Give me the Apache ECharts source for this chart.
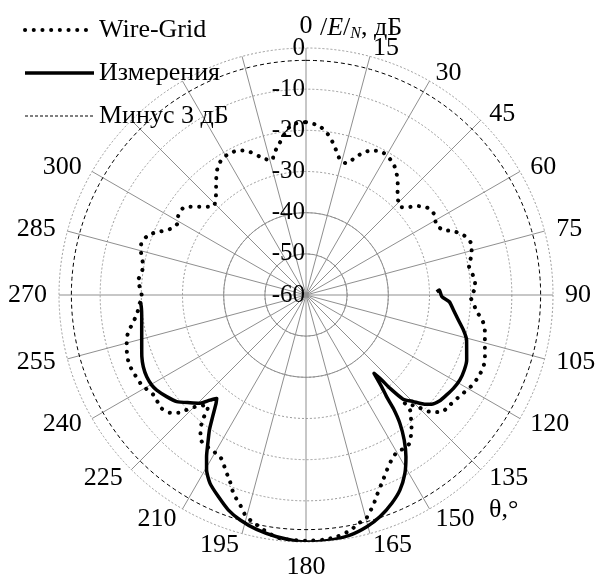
<!DOCTYPE html>
<html>
<head>
<meta charset="utf-8">
<script src="https://cdn.jsdelivr.net/npm/echarts@6/dist/echarts.min.js"></script>
<style>
  html, body { margin: 0; padding: 0; background: #fff; }
  #chart { width: 595px; height: 578px; }
</style>
</head>
<body>
<div id="chart"></div>
<script>
// Radiation pattern, normalised field |E|/N in dB versus azimuth θ (degrees, clockwise from top)

// Wire-Grid model (angle in degrees, level in dB)
const wireGridAngle = [
  0, 1.9, 4.5, 6.9, 9.0, 10.7, 12.5, 14.5, 17.2, 19.2, 21.2, 23.4, 26.1, 28.8, 31.8, 34.4,
  36.9, 39.0, 41.3, 43.7, 46.8, 49.2, 50.9, 53.2, 55.6, 58.7, 61.7, 64.7, 66.1, 67.8, 69.9,
  72.4, 75.0, 77.4, 79.9, 82.6, 85.5, 88.3, 90.8, 92.8, 95.6, 97.6, 99.9, 102.4, 105.1,
  107.6, 110.0, 113.0, 116.3, 119.1, 121.7, 124.3, 127.4, 130.6, 132.4, 133.9, 134.8,
  136.0, 137.6, 137.9, 139.6, 141.3, 143.1, 145.3, 147.6, 150.0, 152.6, 154.4, 156.3,
  158.0, 159.5, 160.9, 162.2, 163.8, 164.8, 166.7, 169.4, 172.8, 176.0, 180.0,
  184.0, 186.1, 187.7, 189.5, 191.2, 193.2, 195.1, 197.2, 199.0, 200.7, 202.1, 203.6,
  205.0, 207.5, 210.0, 212.7, 215.4, 217.2, 218.6, 219.8, 220.6, 221.8, 224.8, 226.2,
  227.3, 229.1, 231.9, 236.8, 241.3, 244.9, 248.4, 251.0, 253.4, 255.9, 258.3, 260.7,
  263.0, 266.3, 269.7, 272.5, 275.1, 277.7, 280.4, 283.1, 285.5, 288.0, 290.4, 292.5,
  294.2, 296.4, 299.2, 301.7, 305.1, 307.3, 309.2, 311.4, 314.0, 317.3, 319.6, 321.8,
  323.9, 326.0, 328.9, 331.6, 334.7, 337.4, 339.6, 341.6, 343.8, 346.1, 346.9, 349.5,
  351.6, 353.3, 355.8, 358.6, 360
];
const wireGridLevel = [
  -18.0, -18.3, -18.8, -20.0, -21.5, -23.1, -24.75, -26.4, -26.5, -25.0, -23.3, -21.9, -21.0, -20.7, -21.2, -22.0,
  -23.3, -24.6, -26.3, -27.7, -28.7, -27.4, -25.7, -24.2, -23.2, -23.3, -24.1, -23.1, -21.5, -20.0, -18.7,
  -18.0, -18.35, -19.0, -19.8, -19.3, -18.8, -19.1, -20.0, -19.3, -18.3, -17.0, -16.0, -15.5, -15.0,
  -14.4, -13.75, -13.5, -13.75, -14.2, -14.9, -15.5, -16.0, -16.4, -17.8, -19.3, -21.2,
  -22.8, -24.4, -22.3, -20.65, -19.0, -17.5, -16.0, -15.8, -15.9, -14.85, -13.75, -12.25,
  -10.8, -9.4, -8.0, -6.4, -4.9, -3.9, -3.2, -1.8, -0.8, -0.4, -0.3,
  -0.4, -0.55, -1.0, -1.7, -2.5, -3.4, -4.2, -6.35, -7.8, -9.35, -11.0, -12.3,
  -13.5, -15.3, -15.8, -16.0, -16.3, -17.6, -19.05, -21.0, -23.2, -24.2, -21.7, -19.6,
  -17.8, -16.3, -15.4, -15.7, -14.5, -14.15, -13.85, -14.1, -14.55, -15.1, -15.9, -17.35,
  -18.4, -19.5, -20.1, -19.6, -19.1, -19.7, -19.8, -19.0, -18.35, -18.05, -18.9, -20.3,
  -22.0, -23.6, -24.3, -23.5, -23.4, -24.6, -26.1, -27.6, -28.9, -27.7, -26.3, -24.7,
  -23.2, -21.9, -21.1, -20.9, -21.2, -22.0, -23.3, -24.6, -25.7, -26.2, -25.1, -23.0,
  -21.4, -19.65, -18.35, -18.1, -18.0
];

// Measured pattern (rear half-plane)
const measuredAngle = [
  88.6, 87.9, 90.7, 92.7, 95.8, 99.3, 102.5, 105.6, 108.9, 112.0, 115.35, 118.9, 122.35,
  125.4, 128.5, 131.1, 132.9, 134.8, 137.0, 138.0, 138.3, 139.0, 140.5, 141.6, 142.4,
  143.8, 145.9, 148.3, 151.0, 154.3, 157.6, 161.5, 165.3, 169.6, 175.2, 180.0,
  186.9, 191.9, 196.3, 199.9, 203.5, 207.0, 209.6, 211.6, 213.5, 215.6, 217.5, 219.7,
  220.8, 222.4, 224.4, 227.1, 230.5, 233.9, 237.5, 239.7, 242.8, 246.2, 249.4, 253.6,
  258.0, 262.5, 267.1, 267.7
];
const measuredLevel = [
  -28.25, -27.6, -27.0, -25.15, -24.0, -22.5, -20.85, -19.5, -18.75, -17.9, -17.45, -17.3, -17.6,
  -18.1, -18.6, -19.6, -21.1, -23.25, -25.4, -29.5, -32.35, -34.8, -31.1, -28.5, -25.2,
  -21.4, -17.45, -13.8, -10.45, -7.4, -5.3, -3.25, -1.8, -0.7, -0.1, 0.0,
  -0.85, -1.8, -3.05, -4.5, -6.6, -8.65, -11.1, -13.9, -16.8, -19.7, -22.75, -25.8,
  -26.8, -25.4, -23.2, -21.55, -19.3, -18.1, -17.0, -16.6, -16.5, -16.8, -17.4, -18.4,
  -19.2, -19.75, -19.8, -19.25
];

// Half-power reference level
const halfPowerLevel = -3;

// Axis ticks
const radiusMin = -60, radiusMax = 0, radiusStep = 10;
const angleStep = 15;
const angleTicks = [0, 15, 30, 45, 60, 75, 90, 105, 120, 135, 150, 165, 180, 195, 210, 225, 240, 255, 270, 285, 300];

const seriesNames = ['Wire-Grid', 'Измерения', 'Минус 3 дБ'];

const FONT = 'Liberation Serif';
const CENTER = [306, 295];
const RADIUS = 247;
const GRID_GREY = '#8f8f8f';
const TICK_FONT = 26;

const toPolar = (levels, angles) => levels.map((v, i) => [v, angles[i]]);
const halfPowerData = [];
for (let a = 0; a <= 360; a += 2) halfPowerData.push([halfPowerLevel, a]);

// Angle labels sit beside the rim: their inner edge is pushed out to LABEL_R,
// which ECharts' own align rules cannot do, so each label gets its own padding.
const LABEL_MARGIN = -34;
const LABEL_R = 259;
const LABEL_R_TOP = 256;
const LABEL_H = 26;
const measureCtx = document.createElement('canvas').getContext('2d');
measureCtx.font = TICK_FONT + 'px "' + FONT + '"';
const angleRich = {};
angleTicks.forEach(v => {
  const th = v * Math.PI / 180, s = Math.sin(th), c = Math.cos(th);
  const w = measureCtx.measureText(String(v)).width, h = LABEL_H;
  const rp = RADIUS + LABEL_MARGIN;
  const px = rp * s, py = -rp * c;
  const hAlign = Math.abs(px) / RADIUS < 0.3 ? 'center' : (px > 0 ? 'left' : 'right');
  const vAlign = Math.abs(py) / RADIUS < 0.3 ? 'middle' : (py > 0 ? 'top' : 'bottom');
  const rY = c > 0 ? LABEL_R_TOP : LABEL_R;
  let dx, dy;
  if (Math.abs(s) < 1e-6) { dx = 0; dy = -(rY + h / 2) * Math.sign(c); }
  else { dx = LABEL_R * s + Math.sign(s) * w / 2; dy = -rY * c; }
  const defX = hAlign === 'left' ? px + w / 2 : hAlign === 'right' ? px - w / 2 : px;
  const defY = vAlign === 'top' ? py + h / 2 : vAlign === 'bottom' ? py - h / 2 : py;
  const sx = dx - defX, sy = dy - defY;
  let pl = 0, pr = 0, pt = 0, pb = 0;
  if (hAlign === 'left') pl = Math.max(0, sx);
  else if (hAlign === 'right') pr = Math.max(0, -sx);
  else if (sx > 0) pl = 2 * sx; else pr = -2 * sx;
  if (vAlign === 'top') pt = Math.max(0, sy);
  else if (vAlign === 'bottom') pb = Math.max(0, -sy);
  else if (sy > 0) pt = 2 * sy; else pb = -2 * sy;
  angleRich['a' + v] = {
    fontFamily: FONT, fontSize: TICK_FONT, color: '#000',
    lineHeight: h + pt + pb,
    padding: [pt, pr, pb, pl]
  };
});

const chart = echarts.init(document.getElementById('chart'), null, { renderer: 'canvas' });

chart.setOption({
  animation: false,
  backgroundColor: '#fff',
  textStyle: { fontFamily: FONT, color: '#000' },
  legend: {
    orient: 'vertical',
    left: 18,
    top: 12,
    itemWidth: 69,
    itemHeight: 14,
    itemGap: 17,
    selectedMode: false,
    itemStyle: { opacity: 0 },
    textStyle: { fontFamily: FONT, fontSize: TICK_FONT, color: '#000' },
    data: [
      { name: seriesNames[0], lineStyle: { color: '#000', width: 4, type: [0.1, 8.6], cap: 'round' } },
      { name: seriesNames[1], lineStyle: { color: '#000', width: 3.5, type: 'solid' } },
      { name: seriesNames[2], lineStyle: { color: '#000', width: 1, type: [3, 2] } }
    ]
  },
  polar: [
    { center: CENTER, radius: RADIUS },
    { center: CENTER, radius: RADIUS * 20 / 60 }
  ],
  angleAxis: [
    {
      polarIndex: 0,
      type: 'value',
      min: 0,
      max: 360,
      interval: angleStep,
      startAngle: 90,
      clockwise: true,
      axisLine: { show: false },
      axisTick: { show: false },
      axisLabel: {
        margin: LABEL_MARGIN,
        fontFamily: FONT,
        fontSize: TICK_FONT,
        color: '#000',
        formatter: v => {
          const a = v % 360;
          return angleTicks.includes(a) ? '{a' + a + '|' + a + '}' : '';
        },
        rich: angleRich
      },
      splitLine: { show: true, lineStyle: { color: GRID_GREY, width: 1, type: 'solid' } }
    },
    {
      polarIndex: 1,
      type: 'value',
      min: 0,
      max: 360,
      startAngle: 90,
      axisLine: { show: false },
      axisTick: { show: false },
      axisLabel: { show: false },
      splitLine: { show: false }
    }
  ],
  radiusAxis: [
    {
      polarIndex: 0,
      type: 'value',
      min: radiusMin,
      max: radiusMax,
      interval: radiusStep,
      axisLine: { show: false },
      axisTick: { show: false },
      axisLabel: {
        margin: 1,
        fontFamily: FONT,
        fontSize: 25,
        color: '#000',
        showMinLabel: true,
        showMaxLabel: true
      },
      splitLine: { show: true, lineStyle: { color: '#9a9a9a', width: 1, type: [2, 2] } },
      name: '{sl|/}{it|E}{sl|/}{sub|N}{t|, дБ}',
      nameLocation: 'end',
      nameGap: 20,
      nameTextStyle: {
        align: 'left',
        verticalAlign: 'middle',
        padding: [0, 0, 0, 14],
        rich: {
          sl: { fontFamily: FONT, fontSize: TICK_FONT, color: '#000' },
          it: { fontFamily: FONT, fontSize: TICK_FONT, fontStyle: 'italic', color: '#000' },
          sub: { fontFamily: FONT, fontSize: 16, fontStyle: 'italic', color: '#000', padding: [12, 0, 0, 0] },
          t: { fontFamily: FONT, fontSize: TICK_FONT, color: '#000' }
        }
      }
    },
    {
      polarIndex: 1,
      type: 'value',
      min: radiusMin,
      max: -40,
      interval: radiusStep,
      axisLine: { show: false },
      axisTick: { show: false },
      axisLabel: { show: false },
      splitLine: { show: true, lineStyle: { color: GRID_GREY, width: 1, type: 'solid' } }
    }
  ],
  graphic: [
    {
      type: 'text',
      left: 489,
      top: 497,
      style: { text: 'θ,°', font: TICK_FONT + 'px "Liberation Serif"', fill: '#000' }
    }
  ],
  series: [
    {
      name: seriesNames[2],
      type: 'line',
      coordinateSystem: 'polar',
      polarIndex: 0,
      data: halfPowerData,
      symbol: 'none',
      silent: true,
      z: 3,
      itemStyle: { color: '#000' },
      lineStyle: { color: '#000', width: 1, type: [4, 3] }
    },
    {
      name: seriesNames[0],
      type: 'line',
      coordinateSystem: 'polar',
      polarIndex: 0,
      data: toPolar(wireGridLevel, wireGridAngle),
      symbol: 'none',
      smooth: 0.2,
      z: 4,
      itemStyle: { color: '#000' },
      lineStyle: { color: '#000', width: 4, type: [0.1, 8.5], cap: 'round' }
    },
    {
      name: seriesNames[1],
      type: 'line',
      coordinateSystem: 'polar',
      polarIndex: 0,
      data: toPolar(measuredLevel, measuredAngle),
      symbol: 'none',
      smooth: 0.2,
      z: 5,
      itemStyle: { color: '#000' },
      lineStyle: { color: '#000', width: 3.5, type: 'solid', join: 'round' }
    }
  ]
});
</script>
</body>
</html>
